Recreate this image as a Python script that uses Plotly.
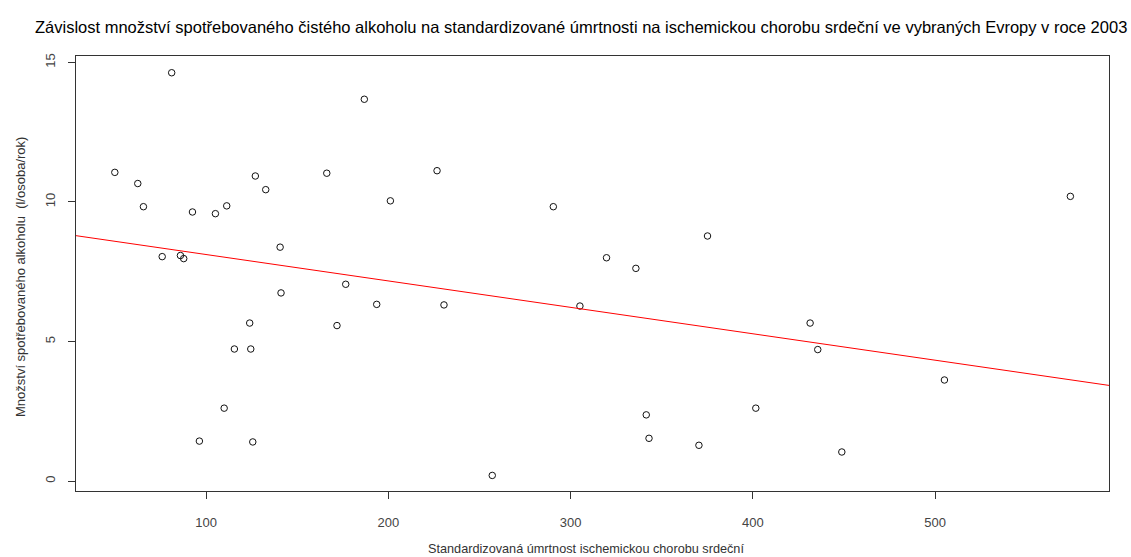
import numpy as np
import plotly.graph_objects as go

# Standardizovaná úmrtnost (x) a spotřeba alkoholu (y)
mortality = [49.9, 62.5, 65.6, 81.1, 75.9, 85.9, 87.7, 92.5, 105.1, 111.3,
             127.0, 132.7, 140.6, 166.2, 186.8, 201.1, 226.7,
             141.1, 176.6, 193.6, 230.5, 123.9, 171.8, 115.5, 124.5, 109.9,
             96.3, 125.6,
             290.5, 375.1, 319.7, 335.8,
             305.1, 431.4, 435.6, 257.0, 341.5, 343.0, 370.4, 401.6, 448.8,
             505.1, 574.2]
alcohol = [11.06, 10.66, 9.83, 14.63, 8.04, 8.08, 7.97, 9.64, 9.58, 9.86,
           10.93, 10.44, 8.38, 11.03, 13.68, 10.04, 11.12,
           6.74, 7.05, 6.33, 6.31, 5.66, 5.57, 4.73, 4.73, 2.61,
           1.43, 1.40,
           9.83, 8.78, 8.00, 7.62,
           6.27, 5.66, 4.71, 0.20, 2.37, 1.53, 1.28, 2.61, 1.04,
           3.62, 10.20]

x_ticks = [100, 200, 300, 400, 500]
y_ticks = [0, 5, 10, 15]

title_text = ("Závislost množství spotřebovaného čistého alkoholu na standardizované "
              "úmrtnosti na ischemickou chorobu srdeční ve vybraných Evropy v roce 2003")
x_title = "Standardizovaná úmrtnost ischemickou chorobu srdeční"
y_title = "Množství spotřebovaného alkoholu  (l/osoba/rok)"

xr = [28.6, 595.4]
yr = [-0.358, 15.23]

slope, intercept = np.polyfit(mortality, alcohol, 1)
line_x = xr
line_y = [intercept + slope * v for v in line_x]

fig = go.Figure()
fig.add_trace(go.Scatter(
    x=mortality, y=alcohol, mode="markers",
    marker=dict(symbol="circle-open", size=6.5, color="#111111", line=dict(width=1, color="#111111")),
    showlegend=False, hoverinfo="x+y"))
fig.add_trace(go.Scatter(
    x=line_x, y=line_y, mode="lines",
    line=dict(color="#ff0000", width=1), showlegend=False, hoverinfo="skip"))

font_family = "Liberation Sans, Arial, sans-serif"
fig.update_layout(
    width=1131, height=557,
    margin=dict(l=75.5, r=22, t=56, b=66),
    paper_bgcolor="white", plot_bgcolor="white",
    font=dict(family=font_family, size=13, color="#333333"),
    xaxis=dict(range=xr, tickvals=x_ticks, ticks="outside", ticklen=7, tickcolor="#333333",
               showline=True, linecolor="#333333", linewidth=1, mirror=True,
               showgrid=False, zeroline=False, ticklabelstandoff=12,
               tickfont=dict(size=13, color="#444444")),
    yaxis=dict(range=yr, tickvals=y_ticks, ticks="outside", ticklen=7, tickcolor="#333333",
               showline=True, linecolor="#333333", linewidth=1, mirror=True,
               showgrid=False, zeroline=False, tickangle=-90, ticklabelstandoff=8,
               tickfont=dict(size=13, color="#444444")),
    annotations=[
        dict(text=title_text, xref="paper", yref="paper", x=0.5, y=1, xanchor="center",
             yanchor="middle", yshift=29, xshift=-12, showarrow=False,
             font=dict(size=16.5, color="#000000", family=font_family)),
        dict(text=x_title, xref="paper", yref="paper", x=0.5, y=0, xanchor="center",
             yanchor="middle", yshift=-58, xshift=-7, showarrow=False,
             font=dict(size=12.7, color="#333333", family=font_family)),
        dict(text=y_title, xref="paper", yref="paper", x=0, y=0.5, xanchor="center",
             yanchor="middle", xshift=-55.5, yshift=-4, textangle=-90, showarrow=False,
             font=dict(size=13, color="#333333", family=font_family)),
    ],
)

fig.write_html("out.html")
